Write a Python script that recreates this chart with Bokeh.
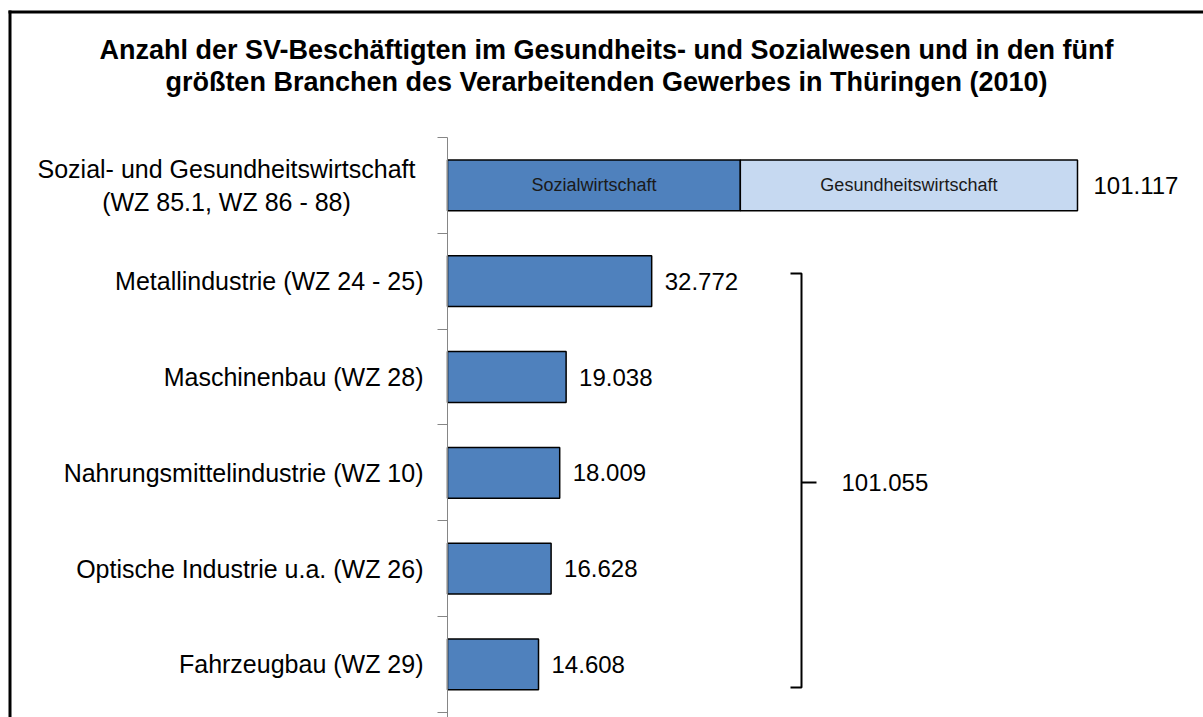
from bokeh.plotting import figure
from bokeh.models import LinearAxis, FixedTicker, BoxAnnotation, ColumnDataSource, Range1d
from bokeh.embed import file_html
from bokeh.resources import INLINE
from bokeh.core.properties import value

# ---- data ----
title_lines = [
    "Anzahl der SV-Beschäftigten im Gesundheits- und Sozialwesen und in den fünf",
    "größten Branchen des Verarbeitenden Gewerbes in Thüringen (2010)",
]
categories = [
    "Sozial- und Gesundheitswirtschaft\n(WZ 85.1, WZ 86 - 88)",
    "Metallindustrie (WZ 24 - 25)",
    "Maschinenbau (WZ 28)",
    "Nahrungsmittelindustrie (WZ 10)",
    "Optische Industrie u.a. (WZ 26)",
    "Fahrzeugbau (WZ 29)",
]
industry_values = [32772, 19038, 18009, 16628, 14608]
segment_labels = ["Sozialwirtschaft", "Gesundheitswirtschaft"]
segment_values = [47000, 54117]


def fmt(v):
    return f"{v:,}".replace(",", ".")


n = len(categories)
positions = [n - 1 - i for i in range(n)]
boundaries = [b - 0.5 for b in range(n + 1)]

# ---- layout (pixel geometry of the canvas) ----
W, H = 1203, 717
X_ZERO_PX = 447          # pixel column of value 0 (axis line)
PX_PER_UNIT = 0.0062304  # horizontal scale
Y_TOP_PX = 137           # pixel row of the top category boundary
PX_PER_ROW = 95.8


def xd(px):
    return (px - X_ZERO_PX) / PX_PER_UNIT


def yd(py):
    return (n - 0.5) - (py - Y_TOP_PX) / PX_PER_ROW


FONT = "Liberation Sans"
DARK = "#4F81BD"
LIGHT = "#C6D9F1"
AXIS_GRAY = "#868686"

p = figure(
    width=W, height=H,
    output_backend="svg", toolbar_location=None, tools="",
    x_range=Range1d(xd(0), xd(W)), y_range=Range1d(yd(H), yd(0)),
    x_axis_location=None, y_axis_location=None,
    min_border=0,
)
p.outline_line_color = None
p.xgrid.visible = False
p.ygrid.visible = False
p.background_fill_color = "white"
p.border_fill_color = "white"

labels_override = {pos: cat for pos, cat in zip(positions, categories)}
labels_override[positions[0]] = ""  # two-line label drawn centred below
yaxis = LinearAxis(fixed_location=0, bounds=(-0.6, n - 0.5),
                   ticker=FixedTicker(ticks=positions, minor_ticks=boundaries))
yaxis.major_label_overrides = labels_override
yaxis.major_tick_line_color = None
yaxis.major_tick_out = 0
yaxis.major_tick_in = 0
yaxis.minor_tick_out = 10
yaxis.minor_tick_in = 0
yaxis.minor_tick_line_color = AXIS_GRAY
yaxis.axis_line_color = AXIS_GRAY
yaxis.major_label_standoff = 14
yaxis.major_label_text_font = FONT
yaxis.major_label_text_font_size = "25px"
yaxis.major_label_text_color = "black"
p.add_layout(yaxis, "left")

# two-line category label (lines centred on each other)
p.text(x=[0], y=[positions[0]], text=[categories[0]], x_offset=-221,
       text_align="center", text_baseline="middle", text_color="black",
       text_line_height=1.2, text_font=value(FONT), text_font_size="25px")

# industries
src_ind = ColumnDataSource(dict(
    y=positions[1:], right=industry_values, label=[fmt(v) for v in industry_values]))
p.hbar(y="y", left=0, right="right", height=0.53, source=src_ind,
       fill_color=DARK, line_color="black", line_width=1.5)
p.text(x="right", y="y", text="label", source=src_ind, x_offset=13,
       text_align="left", text_baseline="middle", text_color="black",
       text_font=value(FONT), text_font_size="24px")

# stacked top bar
lefts = [0, segment_values[0]]
rights = [segment_values[0], segment_values[0] + segment_values[1]]
src_top = ColumnDataSource(dict(
    y=[positions[0]] * 2, left=lefts, right=rights, color=[DARK, LIGHT],
    mid=[(l + r) / 2 for l, r in zip(lefts, rights)], label=segment_labels))
p.hbar(y="y", left="left", right="right", height=0.53, source=src_top,
       fill_color="color", line_color="black", line_width=1.5)
p.text(x="mid", y="y", text="label", source=src_top, text_align="center",
       text_baseline="middle", text_color="#1a1a1a",
       text_font=value(FONT), text_font_size="18px")
total = sum(segment_values)
p.text(x=[total], y=[positions[0]], text=[fmt(total)], x_offset=16,
       text_align="left", text_baseline="middle", text_color="black",
       text_font=value(FONT), text_font_size="24px")

# bracket for the five industries
bx, hook, tick = xd(801), xd(801) - xd(790), xd(816) - xd(801)
b_top, b_bottom, b_mid = yd(273), yd(687), yd(482)
p.multi_line(xs=[[bx - hook, bx, bx, bx - hook], [bx, bx + tick]],
             ys=[[b_top, b_top, b_bottom, b_bottom], [b_mid, b_mid]],
             line_color="black", line_width=2)
p.text(x=[bx], y=[b_mid], text=[fmt(sum(industry_values))], x_offset=40,
       text_align="left", text_baseline="middle", text_color="black",
       text_font=value(FONT), text_font_size="24px")

# title
p.text(x=[xd(606)] * 2, y=[yd(49), yd(81)], text=title_lines,
       text_align="center", text_baseline="middle", text_color="black",
       text_font=value(FONT), text_font_style="bold", text_font_size="27px")

# outer frame (top and left edges visible)
p.add_layout(BoxAnnotation(left=xd(8), right=xd(W), top=yd(10), bottom=yd(13),
                           fill_color="black", fill_alpha=1, line_color=None))
p.add_layout(BoxAnnotation(left=xd(8), right=xd(11), top=yd(10), bottom=yd(H),
                           fill_color="black", fill_alpha=1, line_color=None))

open("out.html", "w").write(file_html(p, INLINE))
